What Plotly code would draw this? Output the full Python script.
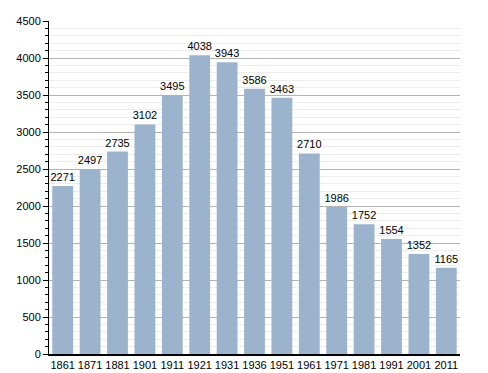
import plotly.graph_objects as go

years = ["1861", "1871", "1881", "1901", "1911", "1921", "1931", "1936",
         "1951", "1961", "1971", "1981", "1991", "2001", "2011"]
population = [2271, 2497, 2735, 3102, 3495, 4038, 3943, 3586,
              3463, 2710, 1986, 1752, 1554, 1352, 1165]
y_ticks = [0, 500, 1000, 1500, 2000, 2500, 3000, 3500, 4000, 4500]

fig = go.Figure(go.Bar(
    x=years, y=population,
    text=[str(v) for v in population],
    textposition="outside",
    constraintext="none",
    textfont=dict(family="Liberation Sans, Arial, sans-serif", size=11, color="#000"),
    marker=dict(color="#9bb3cd", line=dict(width=0)),
    cliponaxis=False,
))

fig.update_layout(
    width=480, height=365,
    margin=dict(l=41, r=28, t=13, b=19, autoexpand=False),
    plot_bgcolor="white", paper_bgcolor="white",
    bargap=0.24,
    showlegend=False,
    font=dict(family="Liberation Sans, Arial, sans-serif", size=11, color="#000"),
    xaxis=dict(
        type="category",
        automargin=False,
        showline=True, linecolor="#000", linewidth=1.5,
        ticks="", showgrid=False,
        tickfont=dict(size=11),
    ),
    yaxis=dict(
        range=[0, 4500],
        automargin=False,
        tickvals=y_ticks,
        showline=True, linecolor="#000", linewidth=1,
        ticks="outside", ticklen=5, tickcolor="#000",
        showgrid=True, gridcolor="#b3b3b3", gridwidth=1,
        zeroline=False,
        tickfont=dict(size=11),
        minor=dict(dtick=100, ticks="outside", ticklen=3, tickcolor="#000",
                   showgrid=True, gridcolor="#ececec", gridwidth=1),
    ),
)

fig.write_html("out.html")
